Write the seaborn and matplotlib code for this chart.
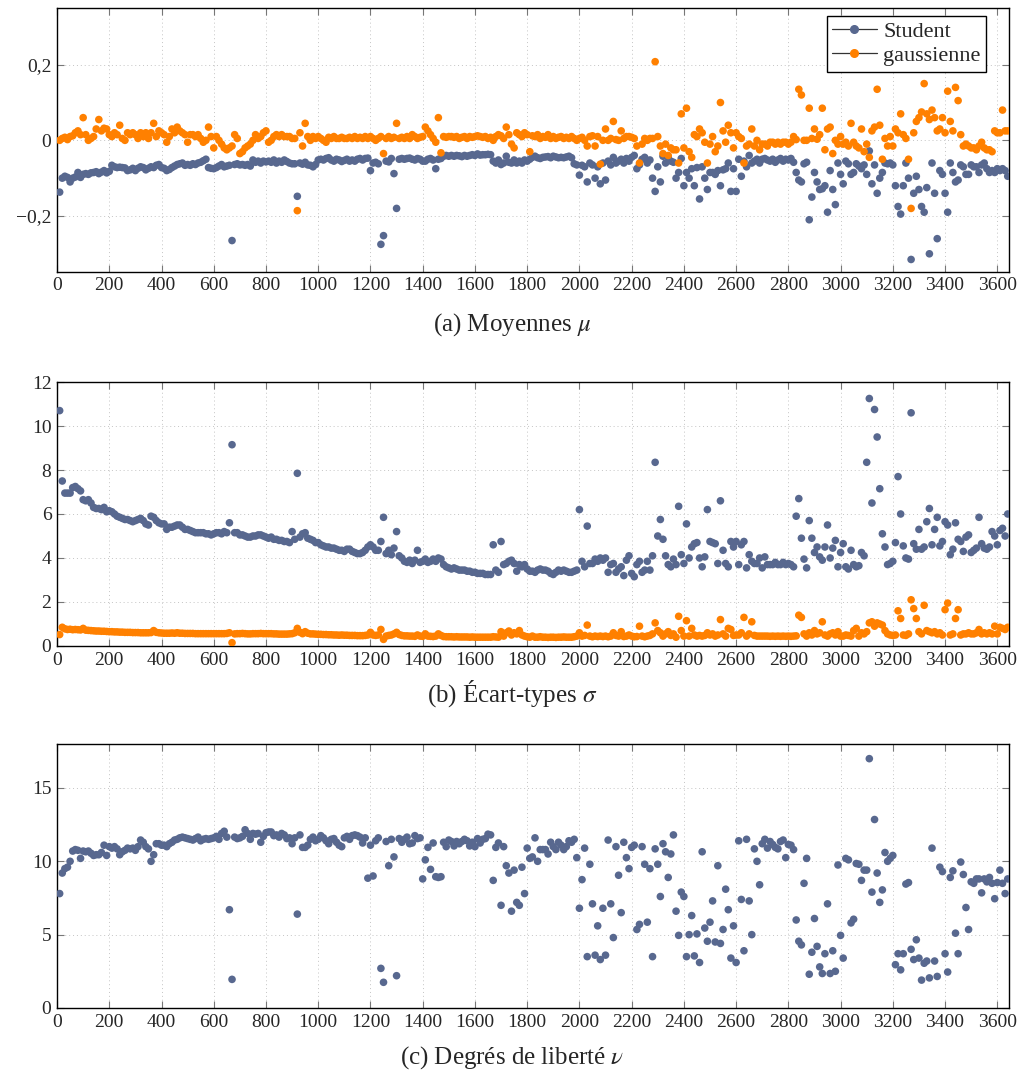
import numpy as np
import pandas as pd
import matplotlib
matplotlib.use("Agg")
import matplotlib.pyplot as plt
from matplotlib.lines import Line2D
from matplotlib.ticker import FuncFormatter, MultipleLocator
import seaborn as sns

# Indices (un point tous les 10)
x_idx = np.arange(10, 3650, 10)

# (a) Moyennes mu
mu_student = [
    -0.137, -0.100, -0.095, -0.098, -0.110, -0.100, -0.097, -0.085, -0.098, -0.090,
    -0.088, -0.090, -0.086, -0.085, -0.083, -0.088, -0.084, -0.080, -0.086, -0.082,
    -0.066, -0.070, -0.072, -0.071, -0.072, -0.073, -0.080, -0.078, -0.074, -0.080,
    -0.074, -0.070, -0.072, -0.078, -0.074, -0.070, -0.072, -0.066, -0.064, -0.072,
    -0.074, -0.080, -0.077, -0.072, -0.068, -0.064, -0.062, -0.060, -0.066, -0.064,
    -0.066, -0.062, -0.064, -0.060, -0.058, -0.054, -0.050, -0.072, -0.074, -0.075,
    -0.072, -0.068, -0.064, -0.070, -0.068, -0.066, -0.265, -0.064, -0.062, -0.065,
    -0.064, -0.066, -0.064, -0.068, -0.052, -0.058, -0.055, -0.060, -0.055, -0.057,
    -0.055, -0.058, -0.052, -0.060, -0.055, -0.058, -0.052, -0.056, -0.060, -0.062,
    -0.062, -0.148, -0.060, -0.063, -0.058, -0.065, -0.066, -0.070, -0.064, -0.052,
    -0.050, -0.052, -0.048, -0.046, -0.052, -0.055, -0.050, -0.052, -0.056, -0.053,
    -0.050, -0.055, -0.052, -0.055, -0.050, -0.048, -0.052, -0.048, -0.047, -0.080,
    -0.060, -0.058, -0.062, -0.275, -0.252, -0.055, -0.057, -0.048, -0.088, -0.180,
    -0.050, -0.048, -0.050, -0.048, -0.047, -0.050, -0.052, -0.048, -0.050, -0.055,
    -0.055, -0.050, -0.048, -0.052, -0.075, -0.050, -0.048, -0.042, -0.040, -0.042,
    -0.040, -0.042, -0.040, -0.041, -0.043, -0.040, -0.042, -0.040, -0.038, -0.040,
    -0.036, -0.039, -0.038, -0.038, -0.037, -0.038, -0.055, -0.060, -0.052, -0.064,
    -0.060, -0.042, -0.058, -0.060, -0.052, -0.060, -0.055, -0.060, -0.052, -0.055,
    -0.050, -0.045, -0.042, -0.046, -0.048, -0.045, -0.044, -0.043, -0.046, -0.042,
    -0.044, -0.046, -0.045, -0.046, -0.044, -0.042, -0.046, -0.062, -0.065, -0.092,
    -0.066, -0.070, -0.110, -0.060, -0.065, -0.100, -0.070, -0.115, -0.060, -0.105,
    -0.055, -0.065, -0.045, -0.060, -0.055, -0.050, -0.060, -0.048, -0.055, -0.045,
    -0.040, -0.075, -0.065, -0.050, -0.045, -0.060, -0.052, -0.100, -0.135, -0.070,
    -0.110, -0.042, -0.060, -0.045, -0.055, -0.058, -0.100, -0.085, -0.048, -0.120,
    -0.085, -0.100, -0.075, -0.120, -0.072, -0.155, -0.070, -0.100, -0.130, -0.085,
    -0.085, -0.090, -0.080, -0.120, -0.078, -0.075, -0.060, -0.135, -0.075, -0.135,
    -0.050, -0.095, -0.055, -0.070, -0.040, -0.060, -0.055, -0.050, -0.060, -0.050,
    -0.048, -0.052, -0.055, -0.050, -0.058, -0.052, -0.048, -0.055, -0.050, -0.052,
    -0.048, -0.058, -0.085, -0.105, -0.110, -0.062, -0.058, -0.210, -0.150, -0.085,
    -0.110, -0.130, -0.128, -0.120, -0.190, -0.080, -0.130, -0.170, -0.060, -0.090,
    -0.115, -0.055, -0.062, -0.090, -0.085, -0.062, -0.068, -0.075, -0.065, -0.090,
    -0.028, -0.115, -0.065, -0.140, -0.100, -0.085, -0.060, -0.062, -0.060, -0.065,
    -0.120, -0.175, -0.195, -0.120, -0.060, -0.100, -0.315, -0.140, -0.095, -0.130,
    -0.175, -0.190, -0.125, -0.300, -0.060, -0.140, -0.260, -0.080, -0.090, -0.140,
    -0.190, -0.060, -0.085, -0.110, -0.105, -0.065, -0.070, -0.090, -0.090, -0.065,
    -0.070, -0.070, -0.085, -0.065, -0.060, -0.075, -0.085, -0.080, -0.085, -0.075,
    -0.080, -0.075, -0.080, -0.095,
]
mu_gauss = [
    0.000, 0.005, 0.008, 0.002, 0.010, 0.012, 0.020, 0.025, 0.015, 0.060,
    0.015, 0.000, 0.005, 0.010, 0.030, 0.055, 0.025, 0.032, 0.030, 0.015,
    0.010, 0.020, 0.015, 0.040, 0.005, 0.000, 0.020, 0.015, 0.020, 0.015,
    0.005, 0.020, 0.010, 0.020, 0.005, 0.020, 0.045, 0.010, 0.025, 0.020,
    0.015, -0.005, 0.010, 0.030, 0.020, 0.035, 0.025, 0.020, 0.015, -0.005,
    0.015, 0.015, 0.010, 0.015, 0.005, -0.005, 0.000, 0.035, 0.010, -0.020,
    0.010, 0.000, -0.010, -0.020, -0.025, -0.020, -0.015, 0.015, 0.005, -0.035,
    -0.030, -0.020, -0.015, -0.010, 0.000, 0.015, 0.005, 0.010, 0.020, 0.025,
    -0.005, 0.000, 0.010, 0.015, 0.010, 0.015, 0.010, 0.010, 0.010, 0.005,
    0.005, -0.186, 0.020, -0.015, 0.045, 0.010, 0.000, 0.010, 0.005, 0.010,
    0.005, 0.000, -0.005, 0.008, 0.005, 0.010, 0.005, 0.005, 0.008, 0.005,
    0.005, 0.008, 0.005, 0.010, 0.005, 0.008, 0.005, 0.010, 0.005, 0.010,
    0.005, 0.000, 0.005, 0.010, -0.035, 0.005, 0.010, 0.005, 0.008, 0.045,
    0.005, 0.008, 0.005, 0.010, 0.005, 0.015, 0.010, 0.005, 0.008, 0.010,
    0.035, 0.025, 0.015, 0.005, -0.005, 0.060, -0.033, 0.010, 0.008, 0.010,
    0.010, 0.008, 0.010, 0.005, 0.008, 0.010, 0.005, 0.010, 0.008, 0.010,
    0.012, 0.010, 0.008, 0.010, 0.005, 0.008, 0.000, 0.010, 0.015, 0.012,
    0.005, 0.035, 0.015, -0.010, -0.020, 0.020, 0.015, 0.010, 0.020, 0.015,
    -0.030, 0.012, 0.010, 0.015, 0.005, 0.010, 0.008, 0.015, 0.005, 0.010,
    0.005, 0.008, 0.010, 0.005, 0.008, 0.005, 0.010, 0.005, 0.000, 0.005,
    0.008, 0.000, -0.015, 0.010, 0.012, -0.015, 0.010, -0.063, 0.000, 0.030,
    0.000, 0.005, 0.050, 0.002, 0.000, 0.025, 0.005, 0.010, 0.010, 0.008,
    0.005, -0.015, -0.060, -0.010, 0.005, 0.000, 0.005, 0.005, 0.208, 0.010,
    -0.015, -0.035, -0.010, -0.040, -0.020, -0.025, -0.025, -0.060, 0.070, -0.020,
    0.085, -0.030, -0.045, 0.015, 0.010, 0.030, 0.020, -0.005, -0.060, -0.010,
    0.010, -0.030, -0.015, 0.100, 0.025, -0.005, 0.040, 0.020, -0.020, 0.020,
    0.010, 0.005, -0.060, -0.015, -0.010, 0.030, -0.015, 0.000, -0.025, -0.010,
    -0.010, -0.015, -0.005, -0.005, -0.010, -0.005, -0.010, -0.005, -0.005, -0.010,
    -0.005, 0.010, 0.002, 0.135, 0.120, 0.000, 0.000, 0.085, 0.005, 0.030,
    0.003, 0.015, 0.085, -0.025, 0.030, 0.035, -0.035, 0.000, -0.010, 0.010,
    -0.010, -0.005, -0.015, 0.045, -0.005, -0.015, -0.020, 0.030, -0.030, -0.010,
    -0.045, 0.025, 0.035, 0.135, 0.040, -0.050, 0.005, -0.015, 0.010, -0.015,
    0.030, 0.020, 0.070, 0.015, 0.005, -0.050, -0.180, 0.020, 0.050, 0.060,
    0.075, 0.150, 0.070, 0.055, 0.080, 0.060, 0.025, 0.030, 0.060, 0.020,
    0.130, 0.050, 0.025, 0.140, 0.105, 0.015, -0.015, -0.010, -0.015, -0.020,
    -0.020, -0.025, -0.015, -0.005, -0.020, -0.025, -0.025, -0.030, 0.025, 0.020,
    0.020, 0.080, 0.025, 0.025,
]

# (b) Ecart-types sigma
sigma_student = [
    10.7, 7.5, 6.95, 6.95, 6.95, 7.2, 7.25, 7.15, 7.05, 6.65,
    6.6, 6.65, 6.5, 6.3, 6.25, 6.25, 6.2, 6.3, 6.1, 6.15,
    6.1, 6.0, 5.9, 5.85, 5.8, 5.75, 5.75, 5.7, 5.65, 5.7,
    5.75, 5.8, 5.7, 5.55, 5.5, 5.9, 5.85, 5.7, 5.6, 5.55,
    5.55, 5.3, 5.4, 5.4, 5.45, 5.5, 5.5, 5.4, 5.3, 5.3,
    5.25, 5.2, 5.15, 5.15, 5.15, 5.15, 5.1, 5.1, 5.05, 5.1,
    5.15, 5.15, 5.1, 5.2, 5.15, 5.6, 9.15, 5.15, 5.15, 5.05,
    5.05, 5.0, 4.95, 4.95, 5.0, 5.0, 5.05, 5.05, 5.0, 4.95,
    4.9, 4.95, 4.85, 4.85, 4.8, 4.8, 4.75, 4.75, 4.7, 5.2,
    4.85, 7.85, 4.95, 5.1, 5.15, 4.9, 4.85, 4.8, 4.7, 4.7,
    4.6, 4.55, 4.5, 4.5, 4.45, 4.45, 4.4, 4.35, 4.35, 4.3,
    4.4, 4.4, 4.3, 4.25, 4.2, 4.2, 4.25, 4.35, 4.5, 4.6,
    4.5, 4.35, 4.35, 4.75, 5.85, 4.2, 4.35, 4.15, 4.45, 5.2,
    4.1, 4.0, 3.85, 3.8, 3.9, 3.75, 3.9, 4.35, 3.8, 3.85,
    3.95, 3.8, 3.85, 3.95, 3.85, 4.0, 3.95, 3.7, 3.6, 3.55,
    3.5, 3.55, 3.5, 3.45, 3.45, 3.45, 3.4, 3.4, 3.35, 3.35,
    3.3, 3.3, 3.3, 3.25, 3.25, 3.25, 4.6, 3.45, 3.35, 4.75,
    3.7, 3.75, 3.85, 3.9, 3.75, 3.4, 3.7, 3.6, 3.7, 3.5,
    3.4, 3.4, 3.35, 3.45, 3.5, 3.45, 3.45, 3.4, 3.3, 3.25,
    3.35, 3.45, 3.4, 3.45, 3.4, 3.35, 3.35, 3.4, 3.45, 6.2,
    3.85, 3.6, 5.45, 3.75, 3.75, 3.95, 3.85, 4.0, 3.9, 4.0,
    3.35, 3.7, 3.75, 3.35, 3.5, 3.6, 3.2, 3.9, 4.1, 3.3,
    3.15, 3.7, 3.85, 3.35, 3.45, 3.85, 3.45, 4.1, 8.35, 5.0,
    5.75, 4.85, 4.1, 3.7, 3.6, 3.95, 3.7, 6.35, 4.15, 3.75,
    5.55, 4.0, 4.5, 4.65, 4.7, 4.0, 3.6, 4.05, 6.2, 4.75,
    4.7, 4.65, 3.75, 6.6, 4.35, 3.75, 3.6, 4.75, 4.5, 4.75,
    3.7, 4.6, 4.75, 3.55, 4.15, 3.85, 3.75, 3.75, 4.0, 3.55,
    4.05, 3.7, 3.7, 3.7, 3.8, 3.7, 3.7, 3.8, 3.7, 3.75,
    3.7, 3.6, 5.9, 6.7, 4.9, 3.95, 3.55, 5.7, 4.9, 4.25,
    4.5, 4.05, 3.9, 4.5, 5.5, 4.0, 4.45, 4.8, 3.6, 4.25,
    4.65, 3.6, 3.5, 4.35, 3.7, 3.6, 3.65, 4.25, 4.1, 8.35,
    11.25, 6.5, 10.75, 9.5, 7.15, 5.1, 4.5, 3.7, 3.75, 3.85,
    4.7, 7.7, 6.0, 4.55, 4.0, 3.95, 10.6, 4.65, 4.4, 5.3,
    4.4, 4.5, 5.65, 6.25, 4.6, 5.3, 5.85, 4.55, 4.75, 5.65,
    5.5, 4.15, 4.4, 5.6, 4.85, 4.75, 4.3, 4.95, 5.05, 4.25,
    4.35, 4.45, 5.85, 4.65, 4.45, 4.4, 4.5, 5.2, 5.0, 4.6,
    5.25, 5.35, 5.0, 6.0,
]
sigma_gauss = [
    0.52, 0.85, 0.78, 0.75, 0.76, 0.74, 0.75, 0.74, 0.73, 0.80,
    0.72, 0.71, 0.70, 0.69, 0.68, 0.68, 0.67, 0.67, 0.66, 0.65,
    0.65, 0.64, 0.64, 0.63, 0.63, 0.62, 0.62, 0.62, 0.61, 0.61,
    0.61, 0.60, 0.60, 0.60, 0.60, 0.61, 0.70, 0.62, 0.60, 0.59,
    0.58, 0.58, 0.58, 0.59, 0.58, 0.60, 0.58, 0.58, 0.57, 0.57,
    0.57, 0.57, 0.56, 0.56, 0.56, 0.56, 0.56, 0.56, 0.56, 0.56,
    0.56, 0.56, 0.56, 0.56, 0.57, 0.60, 0.15, 0.55, 0.56, 0.56,
    0.57, 0.56, 0.55, 0.55, 0.56, 0.56, 0.56, 0.57, 0.56, 0.56,
    0.56, 0.56, 0.55, 0.55, 0.54, 0.54, 0.54, 0.54, 0.55, 0.56,
    0.60, 0.80, 0.62, 0.56, 0.65, 0.58, 0.55, 0.55, 0.54, 0.53,
    0.53, 0.52, 0.52, 0.51, 0.51, 0.50, 0.50, 0.49, 0.50, 0.49,
    0.49, 0.48, 0.48, 0.48, 0.47, 0.47, 0.47, 0.48, 0.50, 0.62,
    0.50, 0.48, 0.50, 0.75, 0.30, 0.45, 0.48, 0.50, 0.55, 0.62,
    0.52, 0.48, 0.46, 0.46, 0.45, 0.45, 0.44, 0.50, 0.45, 0.44,
    0.55, 0.45, 0.44, 0.43, 0.45, 0.55, 0.48, 0.43, 0.42, 0.42,
    0.42, 0.41, 0.42, 0.41, 0.41, 0.41, 0.41, 0.40, 0.41, 0.40,
    0.40, 0.40, 0.40, 0.40, 0.40, 0.40, 0.42, 0.41, 0.40, 0.65,
    0.45, 0.60, 0.68, 0.50, 0.60, 0.55, 0.70, 0.50, 0.45, 0.42,
    0.40, 0.45, 0.40, 0.40, 0.42, 0.40, 0.40, 0.39, 0.40, 0.40,
    0.39, 0.40, 0.40, 0.41, 0.40, 0.40, 0.40, 0.42, 0.45, 0.60,
    0.45, 0.48, 0.95, 0.45, 0.42, 0.45, 0.43, 0.45, 0.43, 0.45,
    0.42, 0.45, 0.60, 0.48, 0.45, 0.65, 0.43, 0.45, 0.50, 0.45,
    0.42, 0.43, 0.90, 0.45, 0.42, 0.45, 0.48, 0.55, 1.05, 0.70,
    0.60, 0.45, 0.55, 0.65, 0.48, 0.55, 0.40, 1.35, 0.70, 0.45,
    1.15, 0.45, 0.80, 0.50, 0.45, 0.48, 0.45, 0.48, 0.60, 0.50,
    0.55, 0.45, 0.50, 1.20, 0.55, 0.45, 0.80, 0.75, 0.48, 0.50,
    0.50, 0.60, 1.30, 0.45, 0.55, 1.10, 0.48, 0.45, 0.45, 0.45,
    0.45, 0.45, 0.44, 0.45, 0.44, 0.45, 0.44, 0.45, 0.44, 0.45,
    0.44, 0.45, 0.46, 1.40, 1.30, 0.55, 0.45, 0.60, 0.50, 0.70,
    0.55, 0.60, 1.10, 0.50, 0.45, 0.55, 0.60, 0.50, 0.65, 0.45,
    0.45, 0.50, 0.48, 0.45, 0.70, 0.80, 0.45, 0.60, 0.55, 0.65,
    1.05, 1.10, 0.90, 1.05, 1.00, 0.95, 0.70, 0.55, 0.50, 0.48,
    0.50, 1.60, 1.25, 0.50, 0.48, 0.55, 2.10, 1.70, 1.25, 0.65,
    0.55, 1.85, 0.70, 0.65, 0.60, 0.65, 0.55, 0.60, 0.50, 1.65,
    1.95, 0.50, 0.55, 1.25, 1.65, 0.50, 0.55, 0.55, 0.60, 0.55,
    0.55, 0.60, 0.75, 0.55, 0.60, 0.55, 0.60, 0.55, 0.90, 0.55,
    0.85, 0.80, 0.75, 0.85,
]

# (c) Degres de liberte nu
nu_student = [
    7.8, 9.2, 9.5, 9.6, 10.0, 10.7, 10.8, 10.75, 10.2, 10.7,
    10.65, 10.7, 10.55, 10.4, 10.45, 10.45, 10.6, 11.1, 10.4, 11.0,
    10.9, 11.0, 10.85, 10.45, 10.65, 10.75, 10.9, 10.85, 10.9, 10.75,
    11.0, 11.45, 11.3, 11.0, 10.85, 10.0, 10.45, 11.2, 11.2, 11.1,
    11.1, 11.0, 11.2, 11.3, 11.45, 11.5, 11.6, 11.65, 11.6, 11.55,
    11.5, 11.45, 11.55, 11.65, 11.4, 11.5, 11.55, 11.5, 11.55, 11.6,
    11.7, 11.5, 11.9, 12.05, 11.65, 6.7, 1.95, 11.65, 11.55, 11.6,
    11.7, 12.15, 11.9, 11.5, 11.9, 11.85, 11.9, 11.3, 11.7, 11.95,
    12.0, 12.0, 11.75, 11.8, 11.65, 11.9, 11.8, 11.55, 11.6, 11.2,
    11.6, 6.4, 11.8, 10.95, 10.95, 11.1, 11.5, 11.65, 11.4, 11.5,
    11.75, 11.6, 11.4, 11.2, 11.5, 11.55, 11.3, 11.1, 11.0, 11.6,
    11.7, 11.5, 11.75, 11.8, 11.75, 11.65, 11.25, 11.6, 8.85, 11.1,
    9.0, 11.4, 11.6, 2.7, 1.75, 11.35, 9.7, 11.5, 10.3, 2.2,
    11.55, 11.3, 11.5, 11.65, 11.2, 11.25, 11.75, 11.55, 11.6, 8.8,
    10.1, 10.95, 9.45, 11.25, 8.95, 8.9, 8.95, 11.3, 11.0, 11.45,
    11.35, 11.05, 11.35, 11.2, 11.35, 11.5, 11.4, 11.05, 11.3, 11.0,
    11.55, 11.25, 11.5, 11.55, 11.85, 11.8, 8.7, 10.95, 11.25, 7.0,
    11.0, 9.7, 9.2, 6.6, 9.4, 7.2, 7.0, 9.6, 7.8, 10.9,
    10.2, 10.3, 11.6, 10.0, 10.8, 10.8, 10.8, 10.5, 11.3, 11.0,
    10.8, 11.3, 11.1, 10.8, 11.0, 11.4, 11.3, 11.5, 10.25, 6.8,
    8.75, 10.9, 3.5, 9.8, 7.1, 3.6, 5.6, 3.3, 6.8, 3.6,
    11.45, 7.1, 4.8, 11.0, 9.05, 6.5, 11.3, 10.25, 9.5, 10.95,
    11.1, 5.35, 5.7, 11.0, 9.8, 5.85, 9.5, 3.5, 10.85, 9.8,
    7.6, 11.2, 10.65, 8.9, 10.5, 11.8, 6.6, 4.95, 7.9, 7.6,
    3.5, 5.0, 6.3, 3.55, 5.05, 3.1, 10.65, 5.45, 4.55, 5.85,
    7.3, 4.5, 9.7, 4.4, 5.35, 8.1, 6.7, 3.4, 5.6, 3.1,
    11.4, 7.4, 3.9, 11.5, 7.3, 5.0, 10.85, 10.0, 8.4, 11.2,
    11.5, 10.9, 11.35, 11.15, 10.95, 10.85, 11.35, 11.45, 10.25, 11.15,
    11.1, 10.8, 6.0, 4.55, 4.3, 8.5, 10.2, 2.3, 3.8, 6.1,
    4.2, 2.8, 2.35, 3.7, 7.1, 2.35, 3.9, 2.5, 9.75, 4.95,
    3.4, 10.2, 10.1, 5.8, 6.05, 9.85, 9.8, 8.7, 9.4, 9.4,
    17.0, 7.9, 12.85, 9.2, 7.2, 8.05, 10.6, 10.0, 10.2, 10.4,
    2.95, 3.7, 2.6, 3.7, 8.45, 8.55, 4.0, 3.3, 4.65, 3.4,
    1.9, 3.05, 3.2, 2.05, 10.9, 3.2, 2.15, 9.6, 9.3, 3.7,
    2.45, 8.9, 9.35, 5.1, 3.7, 9.95, 9.1, 6.85, 5.35, 8.6,
    8.5, 8.8, 8.8, 7.85, 8.8, 8.6, 8.9, 8.5, 7.45, 8.55,
    9.4, 8.5, 7.8, 8.8,
]

labels = ["Student", "gaussienne"]
colors = {"Student": "#58688f", "gaussienne": "#ff8000"}
captions = [r"(a) Moyennes $\mu$", r"(b) Écart-types $\sigma$", r"(c) Degrés de liberté $\nu$"]

sns.set_theme(style="ticks")
plt.rcParams['font.family'] = ['Liberation Serif', 'DejaVu Serif']
plt.rcParams['mathtext.fontset'] = 'stix'
plt.rcParams['axes.unicode_minus'] = True


def long_frame(student, gauss=None):
    df = pd.DataFrame({"x": x_idx, "val": student, "loi": "Student"})
    if gauss is not None:
        df = pd.concat([df, pd.DataFrame({"x": x_idx, "val": gauss, "loi": "gaussienne"})],
                       ignore_index=True)
    return df


def fr_fmt(v, pos):
    if abs(v) < 1e-9:
        return "0"
    if float(v).is_integer():
        s = f"{int(round(v))}"
    else:
        s = f"{v:.1f}".replace(".", ",")
    return s.replace("-", "\u2212")


fig = plt.figure(figsize=(10.24, 10.77), dpi=100)
ax_a = fig.add_axes([0.0557, 0.7475, 0.9297, 0.2451])
ax_b = fig.add_axes([0.0557, 0.4002, 0.9297, 0.2451])
ax_c = fig.add_axes([0.0557, 0.0641, 0.9297, 0.2451])

frames = [long_frame(mu_student, mu_gauss), long_frame(sigma_student, sigma_gauss), long_frame(nu_student)]
ylims = [(-0.348, 0.35), (0, 12), (0, 18)]
ysteps = [0.2, 2, 5]
cap_y = [0.699, 0.356, 0.018]

for ax, df, ylim, ystep, cap, cy in zip([ax_a, ax_b, ax_c], frames, ylims, ysteps, captions, cap_y):
    sns.scatterplot(data=df, x="x", y="val", hue="loi", palette=colors, s=30,
                    linewidth=0, legend=False, ax=ax, zorder=3)
    ax.set_xlim(0, 3645)
    ax.set_ylim(*ylim)
    ax.xaxis.set_major_locator(MultipleLocator(200))
    ax.yaxis.set_major_locator(MultipleLocator(ystep))
    ax.yaxis.set_major_formatter(FuncFormatter(fr_fmt))
    ax.set_xlabel("")
    ax.set_ylabel("")
    ax.grid(True, linestyle=(0, (1, 3)), color="#c4c4c4", linewidth=0.7)
    ax.tick_params(direction="in", top=True, right=True, length=5, width=0.8,
                   color="#777777", labelsize=14, pad=4)
    for sp in ax.spines.values():
        sp.set_linewidth(1.0)
        sp.set_color("black")
    fig.text(0.5, cy, cap, ha="center", va="center", fontsize=18)

handles = [Line2D([], [], color="#333333", lw=0.9, marker="o", markersize=5.5,
                  markerfacecolor=colors[k], markeredgecolor=colors[k]) for k in labels]
ax_a.legend(handles, labels, loc="upper right", fontsize=16, frameon=True, fancybox=False,
            edgecolor="black", framealpha=1, handlelength=2.0, borderpad=0.25,
            labelspacing=0.15, handletextpad=0.3, borderaxespad=0.3,
            bbox_to_anchor=(0.983, 0.995))

fig.savefig("out.png", dpi=100)
